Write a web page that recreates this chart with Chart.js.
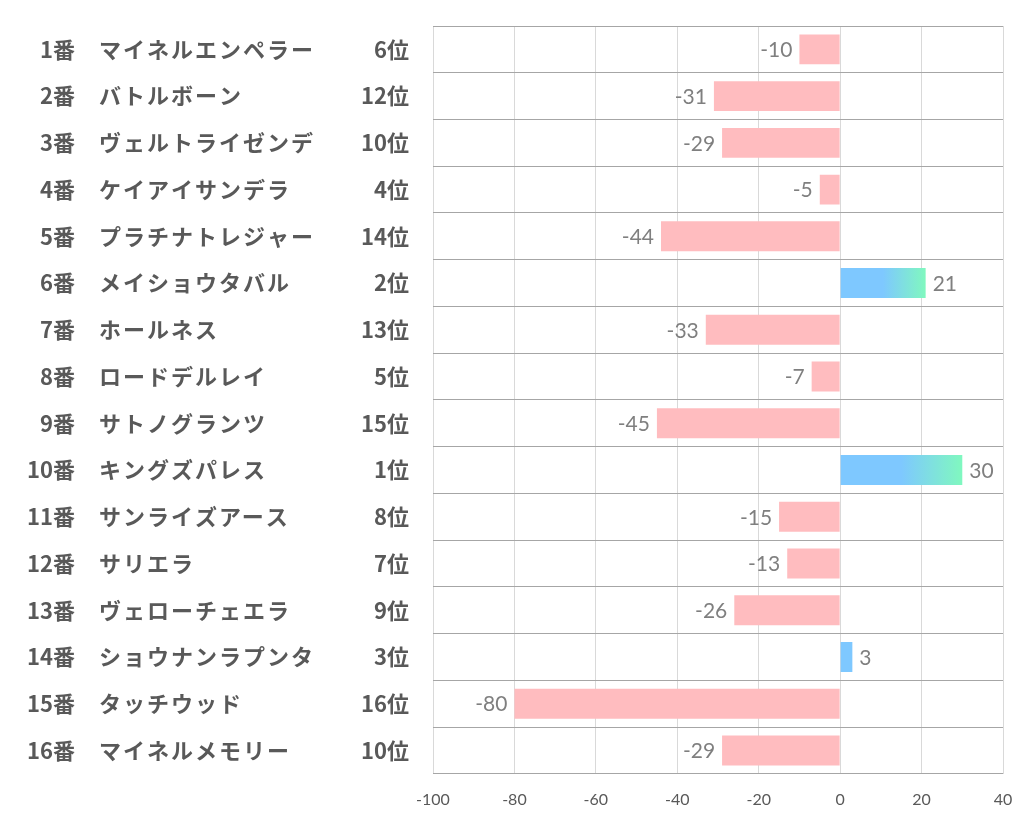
<!DOCTYPE html>
<html>
<head>
<meta charset="utf-8">
<script src="https://cdn.jsdelivr.net/npm/chart.js@4"></script>
<style>
   body { margin: 0; background: #fff; }
</style>
</head>
<body>
<canvas id="chart" width="1022" height="834"></canvas>
<script>
const nums = ["1番", "2番", "3番", "4番", "5番", "6番", "7番", "8番", "9番", "10番", "11番", "12番", "13番", "14番", "15番", "16番"]
const names = ["マイネルエンペラー", "バトルボーン", "ヴェルトライゼンデ", "ケイアイサンデラ", "プラチナトレジャー", "メイショウタバル", "ホールネス", "ロードデルレイ", "サトノグランツ", "キングズパレス", "サンライズアース", "サリエラ", "ヴェローチェエラ", "ショウナンラプンタ", "タッチウッド", "マイネルメモリー"]
const ranks = ["6位", "12位", "10位", "4位", "14位", "2位", "13位", "5位", "15位", "1位", "8位", "7位", "9位", "3位", "16位", "10位"]
const values = [-10, -31, -29, -5, -44, 21, -33, -7, -45, 30, -15, -13, -26, 3, -80, -29]
const xTicks = [-100, -80, -60, -40, -20, 0, 20, 40]

const jpFont = "'Noto Sans CJK JP', 'Noto Sans', sans-serif"
const numFont = "Lato, 'Open Sans', sans-serif"

const pink = "#ffbcbf"
const blue = "#7ec8ff"

function barColor(context) {
   const v = context.raw
   if (v < 0) return pink
   const chart = context.chart
   if (!chart.chartArea || v < 5) return blue
   const x = chart.scales.x
   const x0 = x.getPixelForValue(0)
   const x1 = x.getPixelForValue(v)
   const g = chart.ctx.createLinearGradient(x0, 0, x1, 0)
   g.addColorStop(0, blue)
   g.addColorStop(0.5, blue)
   g.addColorStop(1, "#80f8bf")
   return g
}

// left side table: number / name / rank
const sideLabels = {
   id: "sideLabels",
   afterDraw(chart) {
      const ctx = chart.ctx
      const y = chart.scales.y
      ctx.save()
      ctx.fillStyle = "#595959"
      ctx.textBaseline = "middle"
      ctx.font = "bold 22px " + jpFont
      nums.forEach((n, i) => {
         const py = y.getPixelForTick(i)
         ctx.textAlign = "right"
         ctx.fillText(n, 75, py)
         ctx.fillText(ranks[i], 409, py)
         ctx.textAlign = "left"
         ctx.letterSpacing = "2px"
         ctx.fillText(names[i], 99, py)
         ctx.letterSpacing = "0px"
      })
      ctx.restore()
   }
}

// value labels at bar ends
const valueLabels = {
   id: "valueLabels",
   afterDatasetsDraw(chart) {
      const ctx = chart.ctx
      const meta = chart.getDatasetMeta(0)
      ctx.save()
      ctx.fillStyle = "#7f7f7f"
      ctx.font = "21px " + numFont
      ctx.textBaseline = "middle"
      meta.data.forEach((bar, i) => {
         const v = values[i]
         if (v < 0) {
            ctx.textAlign = "right"
            ctx.fillText(String(v), bar.x - 7, bar.y + 1)
         } else {
            ctx.textAlign = "left"
            ctx.fillText(String(v), bar.x + 7, bar.y + 1)
         }
      })
      ctx.restore()
   }
}

new Chart(document.getElementById("chart"), {
   type: "bar",
   data: {
      labels: nums,
      datasets: [{
         data: values,
         backgroundColor: barColor,
         borderWidth: 0,
         barPercentage: 0.64,
         categoryPercentage: 1,
      }]
   },
   plugins: [sideLabels, valueLabels],
   options: {
      indexAxis: "y",
      responsive: false,
      animation: false,
      layout: {
         padding: { left: 433, right: 19, top: 26, bottom: 9 }
      },
      plugins: {
         legend: { display: false },
         tooltip: { enabled: false }
      },
      scales: {
         x: {
            min: -100,
            max: 40,
            afterBuildTicks: (axis) => {
               axis.ticks = xTicks.map(v => ({ value: v }))
            },
            afterFit: (axis) => {
               axis.paddingLeft = 0
               axis.paddingRight = 0
            },
            grid: {
               color: "#d9d9d9",
               drawTicks: false,
            },
            border: { display: false },
            ticks: {
               color: "#595959",
               padding: 16,
               font: { size: 16, family: numFont }
            }
         },
         y: {
            grid: {
               offset: true,
               color: "#a6a6a6",
               drawTicks: false,
            },
            border: { display: false },
            ticks: { display: false }
         }
      }
   }
})
</script>
</body>
</html>
